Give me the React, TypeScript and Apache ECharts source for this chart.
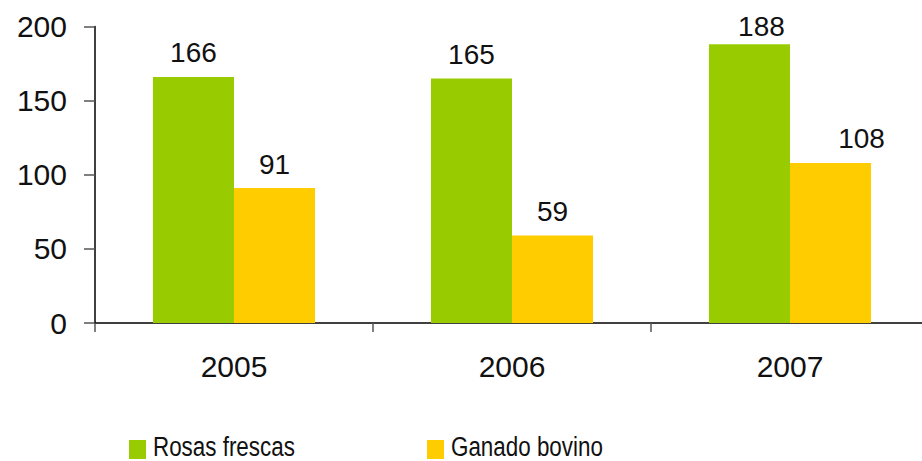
import React, { useEffect, useRef } from "react";
import * as echarts from "echarts";

const categories = ["2005", "2006", "2007"];
const rosasFrescas = [166, 165, 188];
const ganadoBovino = [91, 59, 108];
const seriesNames = ["Rosas frescas", "Ganado bovino"];
const seriesColors = ["#99CC00", "#FFCC00"];
const yTicks = { min: 0, max: 200, interval: 50 };

export default function App() {
  const ref = useRef<HTMLDivElement>(null);
  useEffect(() => {
    if (!ref.current) return;
    const chart = echarts.init(ref.current, undefined, { renderer: "svg" });
    const labelFont = {
      fontFamily: "'Liberation Sans', Arial, sans-serif",
      fontSize: 28,
      color: "#111",
    };
    const labelOffsets = [
      [[0, 0], [0, 0], [12, 6]],
      [[0, 0], [0, 0], [31, 0]],
    ];
    const mk = (vals: number[], s: number) =>
      vals.map((v, i) => ({
        value: v,
        label: { offset: labelOffsets[s][i] },
      }));
    const legendX = [129, 427];
    const legendItems = seriesNames.map((name, i) => ({
      type: "group",
      x: legendX[i],
      y: 440,
      children: [
        { type: "rect", shape: { x: 0, y: 0, width: 17, height: 19 }, style: { fill: seriesColors[i] } },
        {
          type: "text",
          x: 24,
          y: 6.5,
          scaleX: 0.8,
          style: {
            text: name,
            fill: "#111",
            font: "28px 'Liberation Sans', Arial, sans-serif",
            lineHeight: 28,
            verticalAlign: "middle",
            align: "left",
          },
        },
      ],
    }));
    chart.setOption({
      animation: false,
      backgroundColor: "#fff",
      grid: {
        left: 95,
        top: 26.5,
        bottom: 138,
        width: 834,
        containLabel: false,
        outerBoundsMode: "none",
      },
      graphic: legendItems,
      xAxis: {
        type: "category",
        data: categories,
        axisLine: { show: true, lineStyle: { color: "#000", width: 1.5 } },
        axisTick: { show: true, length: 9, lineStyle: { color: "#555", width: 1.5 } },
        axisLabel: {
          margin: 28,
          fontFamily: "'Liberation Sans', Arial, sans-serif",
          fontSize: 30,
          color: "#111",
        },
      },
      yAxis: {
        type: "value",
        min: yTicks.min,
        max: yTicks.max,
        interval: yTicks.interval,
        splitLine: { show: false },
        axisLine: { show: true, lineStyle: { color: "#000", width: 1.5 } },
        axisTick: { show: true, length: 11, lineStyle: { color: "#555", width: 1.5 } },
        axisLabel: {
          margin: 28,
          fontFamily: "'Liberation Sans', Arial, sans-serif",
          fontSize: 30,
          color: "#111",
        },
      },
      series: [
        {
          name: seriesNames[0],
          type: "bar",
          data: mk(rosasFrescas, 0),
          itemStyle: { color: seriesColors[0] },
          barGap: "0%",
          barCategoryGap: "41.7%",
          label: { show: true, position: "top", distance: 10, ...labelFont },
        },
        {
          name: seriesNames[1],
          type: "bar",
          data: mk(ganadoBovino, 1),
          itemStyle: { color: seriesColors[1] },
          barGap: "0%",
          barCategoryGap: "41.7%",
          label: { show: true, position: "top", distance: 10, ...labelFont },
        },
      ],
    });
    return () => chart.dispose();
  }, []);
  return (
    <div
      ref={ref}
      style={{ position: "fixed", left: 0, top: 0, width: 922, height: 461, background: "#fff" }}
    />
  );
}
